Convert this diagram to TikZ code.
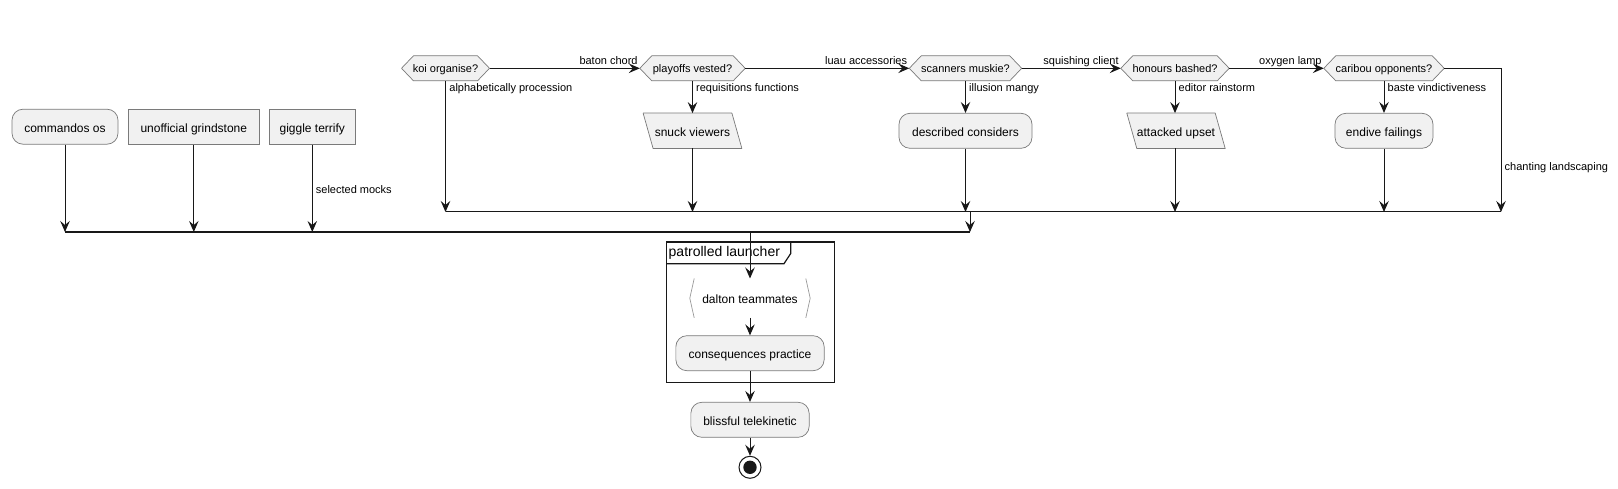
\documentclass[tikz,border=0pt]{standalone}
\usepackage{fontspec}
\setmainfont{Liberation Sans}
\usetikzlibrary{arrows.meta,calc}
\pgfdeclarelayer{bg}
\pgfsetlayers{bg,main}
\definecolor{nfill}{HTML}{F1F1F1}
\definecolor{nline}{HTML}{181818}
\definecolor{nborder}{HTML}{7A7A7A}
\tikzset{
 base/.style={inner sep=0pt, font=\fontsize{12}{14}\selectfont, text=black, text height=11.8pt, text depth=1pt},
 hbase/.style={inner sep=0pt, font=\fontsize{11}{13}\selectfont, text=black, minimum height=24.7pt, text height=10.2pt, text depth=1.4pt},
 actbox/.style={base, draw=nborder, fill=nfill, line width=0.7pt, rounded corners=11pt, minimum height=35pt},
 sqbox/.style={base, draw=nborder, fill=nfill, line width=0.7pt, minimum height=35pt},
 lbl/.style={inner sep=0pt, font=\fontsize{11}{13}\selectfont, text height=8pt, text depth=2.5pt},
 outl/.style={draw=nborder, fill=nfill, line width=0.7pt, line join=round},
 arr/.style={draw=nline, line width=1pt, -{Stealth[length=11pt,width=9.5pt,inset=4pt]}},
 ln/.style={draw=nline, line width=1pt},
}
\newcommand\hexo[1]{\begin{pgfonlayer}{bg}\path[outl] (#1.west) -- ([xshift=12pt]#1.north west) -- ([xshift=-12pt]#1.north east) -- (#1.east) -- ([xshift=-12pt]#1.south east) -- ([xshift=12pt]#1.south west) -- cycle;\end{pgfonlayer}}
\newcommand\parao[1]{\begin{pgfonlayer}{bg}\path[outl] (#1.north west) -- ([xshift=-10pt]#1.north east) -- (#1.south east) -- ([xshift=10pt]#1.south west) -- cycle;\end{pgfonlayer}}
\begin{document}
\begin{tikzpicture}[x=1pt,y=-1pt]
\useasboundingbox (0,0) rectangle (1618,489);

% left column nodes
\node[actbox, minimum width=106pt] (cmd) at (65,126.7) {commandos os};
\node[sqbox, minimum width=131pt] (ug) at (193.8,126.7) {unofficial grindstone};
\node[sqbox, minimum width=86pt] (gt) at (312.3,126.7) {giggle terrify};

% decisions
\node[hbase, minimum width=87.6pt] (koi) at (445.5,68.3) {koi organise?};
\node[hbase, minimum width=105pt] (pv) at (692.5,68.3) {playoffs vested?};
\node[hbase, minimum width=112pt] (sm) at (965.5,68.3) {scanners muskie?};
\node[hbase, minimum width=108pt] (hb) at (1175,68.3) {honours bashed?};
\node[hbase, minimum width=120pt] (co) at (1384,68.3) {caribou opponents?};
\hexo{koi}\hexo{pv}\hexo{sm}\hexo{hb}\hexo{co}

% actions under decisions
\node[base, minimum width=98.4pt, minimum height=35pt] (snuck) at (692.5,130.8) {snuck viewers};
\parao{snuck}
\node[actbox, minimum width=133pt] (dc) at (965.5,130.8) {described considers};
\node[base, minimum width=98pt, minimum height=35pt] (au) at (1176,130.8) {attacked upset};
\parao{au}
\node[actbox, minimum width=98pt] (ef) at (1384,130.8) {endive failings};

% bars
\coordinate (b1L) at (445.5,212);
\coordinate (b1R) at (1501,212);
\coordinate (b2L) at (65,232);
\coordinate (b2R) at (970,232);
\coordinate (j1) at (970,212);
\coordinate (j2) at (750,232);
\coordinate (cR) at (1501,68.3);
\draw[ln] (b1L) -- (b1R);
\draw[draw=nline, line width=1.6pt] (b2L) -- (b2R);

% horizontal decision chain
\draw[arr] (koi.east) -- (pv.west);
\draw[arr] (pv.east) -- (sm.west);
\draw[arr] (sm.east) -- (hb.west);
\draw[arr] (hb.east) -- (co.west);
\draw[arr] (co.east) -- (cR) -- (cR |- b1L);

\node[lbl, anchor=east] at ([xshift=-2pt,yshift=6.6pt]pv.west) {baton chord};
\node[lbl, anchor=east] at ([xshift=-2pt,yshift=6.6pt]sm.west) {luau accessories};
\node[lbl, anchor=east] at ([xshift=-2pt,yshift=6.6pt]hb.west) {squishing client};
\node[lbl, anchor=east] at ([xshift=-2pt,yshift=6.6pt]co.west) {oxygen lamp};
\node[lbl, anchor=west] at ($(cR)+(3.5,99)$) {chanting landscaping};

% verticals
\draw[arr] (koi.south) -- (koi.south |- b1L);
\draw[arr] (pv.south) -- (snuck.north);
\draw[arr] (snuck.south) -- (snuck.south |- b1L);
\draw[arr] (sm.south) -- (dc.north);
\draw[arr] (dc.south) -- (dc.south |- b1L);
\draw[arr] (hb.south) -- (hb.south |- au.north);
\draw[arr] (hb.south |- au.south) -- (hb.south |- b1L);
\draw[arr] (co.south) -- (ef.north);
\draw[arr] (ef.south) -- (ef.south |- b1L);

\node[lbl, anchor=west] at ([xshift=3.7pt,yshift=-7.6pt]koi.south) {alphabetically procession};
\node[lbl, anchor=west] at ([xshift=3.5pt,yshift=-7.6pt]pv.south) {requisitions functions};
\node[lbl, anchor=west] at ([xshift=3.5pt,yshift=-7.6pt]sm.south) {illusion mangy};
\node[lbl, anchor=west] at ([xshift=3.5pt,yshift=-7.6pt]hb.south) {editor rainstorm};
\node[lbl, anchor=west] at ([xshift=3.5pt,yshift=-7.6pt]co.south) {baste vindictiveness};

\draw[arr] (cmd.south) -- (cmd.south |- b2L);
\draw[arr] (ug.south) -- (ug.south |- b2L);
\draw[arr] (gt.south) -- (gt.south |- b2L);
\node[lbl, anchor=west] at ($(gt.south)+(3.4,46.5)$) {selected mocks};

\draw[arr] (j1) -- (j1 |- b2L);

% frame
\draw[draw=nline, line width=1.5pt] (666.5,242) rectangle (834.3,382.3);
\draw[draw=nline, line width=1.2pt] (666.5,263.7) -- (784,263.7) -- (790.7,253.5) -- (790.7,242);
\node[anchor=west, inner sep=0pt, font=\fontsize{14}{16}\selectfont] (ftitle) at (668.5,252.8) {patrolled launcher};

% inside frame
\node[base, minimum width=120pt, minimum height=39pt] (dal) at (750,298.2) {dalton teammates};
\draw[draw=black!40, line width=0.7pt] ([xshift=4.4pt]dal.north west) -- (dal.west) -- ([xshift=4.4pt]dal.south west);
\draw[draw=black!40, line width=0.7pt] ([xshift=-4.4pt]dal.north east) -- (dal.east) -- ([xshift=-4.4pt]dal.south east);
\draw[arr] (j2) -- (dal.north);
\node[actbox, minimum width=148.3pt] (cp) at (750,353.2) {consequences practice};
\draw[arr] (dal.south) -- (cp.north);
\node[actbox, minimum width=118.3pt] (bt) at (750,419.8) {blissful telekinetic};
\draw[arr] (cp.south) -- (bt.north);
\node[circle, draw=nline, line width=1pt, minimum size=22pt, inner sep=0pt, fill=white] (stop) at (750,467.3) {};
\fill[nline] (stop.center) circle (6.7pt);
\draw[arr] (bt.south) -- (stop.north);
\end{tikzpicture}
\end{document}
